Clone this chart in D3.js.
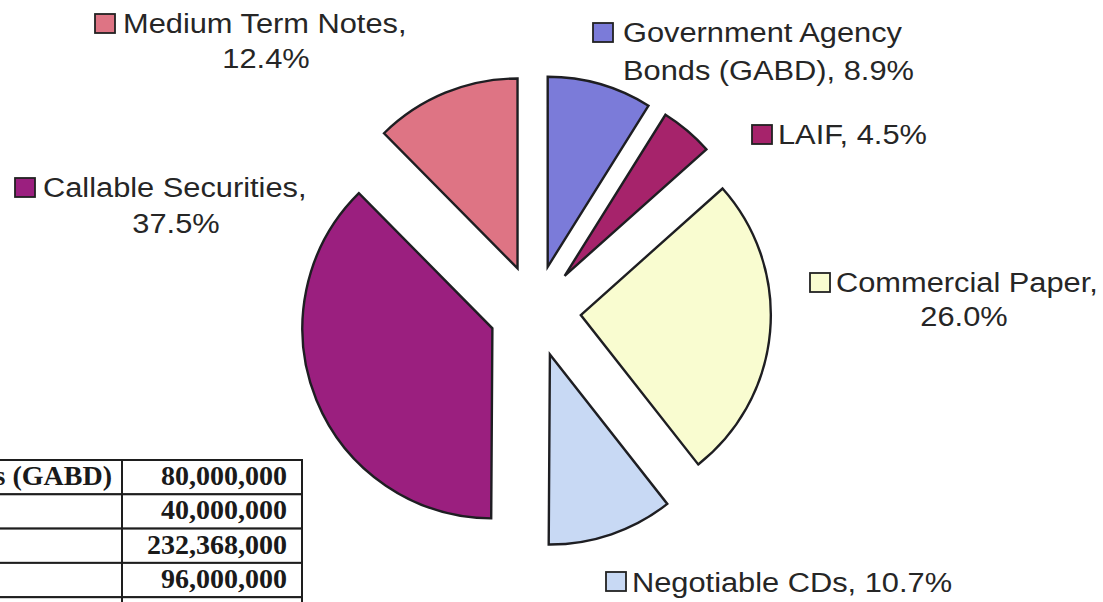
<!DOCTYPE html>
<html>
<head>
<meta charset="utf-8">
<script src="https://cdn.jsdelivr.net/npm/d3@7"></script>
<style>
  html, body { margin: 0; padding: 0; background: #fff; }
  svg { display: block; }
</style>
</head>
<body>
<svg id="chart" width="1103" height="602"></svg>
<script>
// Portfolio composition, clockwise from 12 o'clock
const categories = [
  "Government Agency Bonds (GABD)",
  "LAIF",
  "Commercial Paper",
  "Negotiable CDs",
  "Callable Securities",
  "Medium Term Notes"
];
const shares = [8.9, 4.5, 26.0, 10.7, 37.5, 12.4];          // percent of portfolio
const fills  = ["#7b7bd9", "#a6236b", "#f9fcd0", "#c8d9f4", "#9b1f7f", "#de7484"];

// Holdings table (amounts in dollars); only its right-hand part is in view
const tableLabels  = ["Government Agency Bonds (GABD)"];
const tableAmounts = [80000000, 40000000, 232368000, 96000000];

const svg = d3.select("#chart");
const W = 1103, H = 602;

svg.append("rect").attr("width", W).attr("height", H).attr("fill", "#fff");

// ---- exploded pie ----
const cx = 535, cy = 311, R = 190, explode = 46;

const pie = d3.pie().sort(null).value(d => d.share).startAngle(0).endAngle(2 * Math.PI);
const arc = d3.arc().innerRadius(0).outerRadius(R);
const data = categories.map((c, i) => ({ name: c, share: shares[i], fill: fills[i] }));
const arcs = pie(data);

const gPie = svg.append("g").attr("transform", `translate(${cx},${cy})`);
gPie.selectAll("path.slice")
  .data(arcs)
  .join("path")
  .attr("class", "slice")
  .attr("d", arc)
  .attr("fill", d => d.data.fill)
  .attr("stroke", "#1e1e22")
  .attr("stroke-width", 2.4)
  .attr("stroke-linejoin", "miter")
  .attr("transform", d => {
    const mid = (d.startAngle + d.endAngle) / 2;
    return `translate(${explode * Math.sin(mid)},${-explode * Math.cos(mid)})`;
  });

// ---- data labels with legend keys ----
const pct = d3.format(".1f");
const fontFam = "'Liberation Sans', Arial, Helvetica, sans-serif";
const fs = 28, stretch = 1.1;   // labels are drawn slightly wide

// label layout: key square, line anchors and baselines
const labelLayout = [
  { key: [593, 23], lines: [{ text: d => "Government Agency", x: 623, y: 42, anchor: "start" },
                            { text: d => `Bonds (GABD), ${pct(d.share)}%`, x: 623, y: 80, anchor: "start" }] },
  { key: [752, 125], lines: [{ text: d => `LAIF, ${pct(d.share)}%`, x: 778, y: 144, anchor: "start" }] },
  { key: [810, 273], lines: [{ text: d => "Commercial Paper,", x: 836, y: 292, anchor: "start" },
                             { text: d => `${pct(d.share)}%`, x: 964, y: 326, anchor: "middle" }] },
  { key: [606, 572], lines: [{ text: d => `Negotiable CDs, ${pct(d.share)}%`, x: 632, y: 592, anchor: "start" }] },
  { key: [15, 178], lines: [{ text: d => "Callable Securities,", x: 43, y: 197, anchor: "start" },
                            { text: d => `${pct(d.share)}%`, x: 176, y: 233, anchor: "middle" }] },
  { key: [95, 14], lines: [{ text: d => "Medium Term Notes,", x: 123, y: 33, anchor: "start" },
                           { text: d => `${pct(d.share)}%`, x: 266, y: 68, anchor: "middle" }] }
];

const gLab = svg.append("g");
data.forEach((d, i) => {
  const L = labelLayout[i];
  gLab.append("rect")
    .attr("x", L.key[0]).attr("y", L.key[1])
    .attr("width", 20).attr("height", 19)
    .attr("fill", d.fill)
    .attr("stroke", "#222").attr("stroke-width", 1.8);
  L.lines.forEach(ln => {
    gLab.append("text")
      .attr("transform", `translate(${ln.x},${ln.y}) scale(${stretch},1)`)
      .attr("text-anchor", ln.anchor)
      .attr("font-family", fontFam)
      .attr("font-size", fs)
      .attr("fill", "#262626")
      .text(ln.text(d));
  });
});

// ---- holdings table ----
const colSplit = 122, colRight = 302, tableTop = 460, rowH = 34.3;
const tFont = "'Liberation Serif', 'Times New Roman', serif";
const tSize = 28;
const amt = d3.format(",");

const gTab = svg.append("g");
const rowY = i => tableTop + i * rowH;

// label column placed so the first label ends just inside the divider
const probe = gTab.append("text")
  .attr("font-family", tFont).attr("font-weight", "bold").attr("font-size", tSize)
  .text(tableLabels[0]);
const firstLen = probe.node().getComputedTextLength();
probe.remove();
const labelX = colSplit - 10 - firstLen;
const colLeft = labelX - 4;

// rows: the amounts plus the top of the next row, which runs off the bottom edge
d3.range(tableAmounts.length + 1).forEach(i => {
  const y0 = rowY(i);
  gTab.append("rect")
    .attr("x", colLeft).attr("y", y0)
    .attr("width", colRight - colLeft).attr("height", rowH)
    .attr("fill", "#fff")
    .attr("stroke", "#1e1e1e").attr("stroke-width", 2);
  gTab.append("line")
    .attr("x1", colSplit).attr("x2", colSplit)
    .attr("y1", y0).attr("y2", y0 + rowH)
    .attr("stroke", "#1e1e1e").attr("stroke-width", 2);
});

tableLabels.forEach((lab, i) => {
  gTab.append("text")
    .attr("x", labelX).attr("y", rowY(i) + 25)
    .attr("font-family", tFont).attr("font-weight", "bold").attr("font-size", tSize)
    .attr("fill", "#1a1a1a")
    .text(lab);
});

tableAmounts.forEach((v, i) => {
  gTab.append("text")
    .attr("x", colRight - 15).attr("y", rowY(i) + 25)
    .attr("text-anchor", "end")
    .attr("font-family", tFont).attr("font-weight", "bold").attr("font-size", tSize)
    .attr("fill", "#1a1a1a")
    .text(amt(v));
});
</script>
</body>
</html>
